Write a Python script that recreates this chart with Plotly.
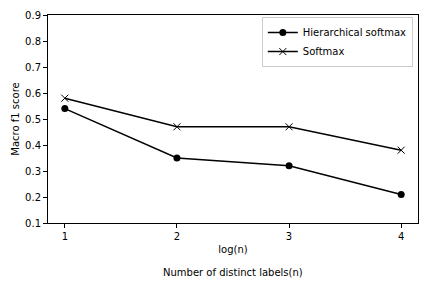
import plotly.graph_objects as go

x_vals = [1, 2, 3, 4]
hier_softmax = [0.54, 0.35, 0.32, 0.21]
softmax = [0.58, 0.47, 0.47, 0.38]
y_ticks = [0.1, 0.2, 0.3, 0.4, 0.5, 0.6, 0.7, 0.8, 0.9]

font = dict(family="DejaVu Sans", size=10, color="black")

fig = go.Figure()
fig.add_trace(go.Scatter(
    x=x_vals, y=hier_softmax, mode="lines+markers", name="Hierarchical softmax",
    line=dict(color="black", width=1.5),
    marker=dict(symbol="circle", size=7, color="black"),
))
fig.add_trace(go.Scatter(
    x=x_vals, y=softmax, mode="lines+markers", name="Softmax",
    line=dict(color="black", width=1.5),
    marker=dict(symbol="x-thin", size=7, color="black", line=dict(color="black", width=1)),
))

fig.update_layout(
    width=432, height=288,
    margin=dict(l=48, r=14, t=15, b=65, autoexpand=False),
    paper_bgcolor="white", plot_bgcolor="white",
    font=font,
    showlegend=True,
    legend=dict(x=0.986, y=0.99, xanchor="right", yanchor="top",
                bgcolor="white", bordercolor="#cccccc", borderwidth=1,
                font=font, tracegroupgap=0, itemwidth=30),
    xaxis=dict(range=[0.85, 4.15], tickvals=x_vals, ticktext=[str(v) for v in x_vals],
               showgrid=False, zeroline=False, showline=True, linecolor="black", linewidth=1,
               mirror=True, ticks="outside", ticklen=4, tickcolor="black", automargin=False,
               title=dict(text="log(n)", font=font, standoff=4)),
    yaxis=dict(range=[0.1, 0.9], tickvals=y_ticks, ticktext=[f"{v:.1f}" for v in y_ticks],
               showgrid=False, zeroline=False, showline=True, linecolor="black", linewidth=1,
               mirror=True, ticks="outside", ticklen=4, tickcolor="black", automargin=False,
               title=dict(text="Macro f1 score", font=font, standoff=3)),
)
fig.add_annotation(text="Number of distinct labels(n)", xref="paper", yref="paper",
                   x=0.5, y=0, yshift=-49, xanchor="center", yanchor="middle",
                   showarrow=False, font=font)

fig.write_html("out.html", config={"displayModeBar": False},
               post_script="document.body.style.margin='0';document.body.style.overflow='hidden';")
